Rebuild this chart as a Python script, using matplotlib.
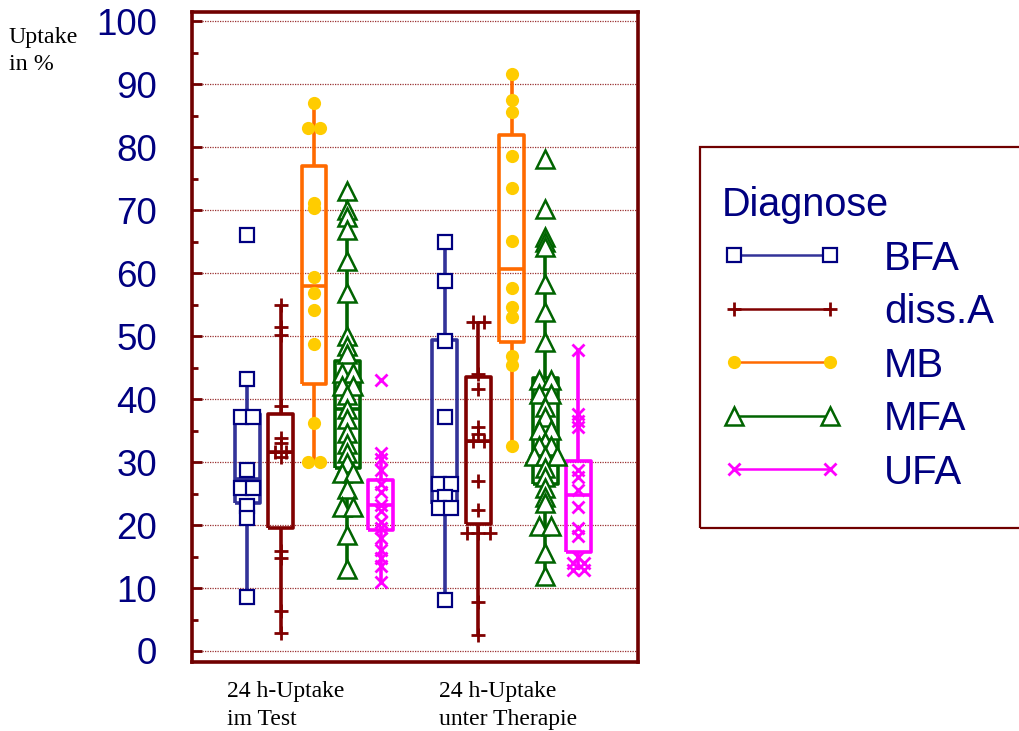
import numpy as np
import matplotlib
matplotlib.use("Agg")
import matplotlib.pyplot as plt
from matplotlib.lines import Line2D
from matplotlib.patches import Rectangle
from matplotlib.ticker import MultipleLocator

# ---- data -----------------------------------------------------------------
groups = ["24 h-Uptake\nim Test", "24 h-Uptake\nunter Therapie"]
diagnoses = ["BFA", "diss.A", "MB", "MFA", "UFA"]

# individual uptake values (%), [test, therapy]
bfa = [[66.0, 43.2, 37.1, 37.1, 28.7, 25.9, 25.9, 23.0, 21.2, 8.6],
       [65.0, 58.7, 49.2, 37.2, 26.5, 26.5, 24.4, 22.7, 22.7, 8.1]]
diss_a = [[55.0, 51.5, 50.2, 38.9, 33.8, 33.0, 31.6, 31.6, 30.8, 15.9, 14.7, 6.3, 2.9],
          [52.3, 52.3, 44.0, 41.6, 35.5, 34.4, 33.3, 33.3, 27.0, 22.4,
           18.8, 18.8, 18.8, 7.8, 2.5]]
mb = [[87.1, 83.1, 83.1, 71.2, 70.4, 59.4, 56.8, 54.2, 48.7, 36.2, 30.0, 30.0],
      [91.6, 87.6, 85.6, 78.6, 73.6, 65.1, 57.7, 54.6, 53.0, 46.8, 45.4, 32.5]]
mfa = [[73.1, 70.0, 69.0, 66.9, 61.9, 56.9, 50.0, 48.4, 47.1, 44.2, 44.2, 42.1, 42.1,
        40.7, 38.4, 36.8, 34.7, 32.8, 31.5, 29.9, 28.3, 28.3, 25.7, 22.8, 22.8, 18.5, 13.0],
       [78.2, 70.2, 65.7, 64.9, 64.2, 58.3, 53.9, 49.1, 43.0, 43.0, 40.9, 40.9, 38.8,
        37.2, 35.1, 35.1, 33.2, 32.5, 32.5, 30.9, 30.9, 30.9, 29.0, 27.7, 25.9, 24.5,
        23.5, 19.8, 19.8, 15.6, 11.9]]
ufa = [[43.0, 31.4, 30.5, 28.8, 26.5, 25.3, 23.2, 22.2, 20.5, 19.5, 18.0, 16.0,
        14.7, 13.5, 11.0],
       [47.8, 37.7, 36.6, 35.6, 28.8, 27.7, 25.5, 22.9, 19.5, 18.2, 15.0, 13.9,
        13.9, 12.9, 12.9]]

# box statistics: (q1, median, q3, whisker low, whisker high), [test, therapy]
bfa_box = [(23.5, 27.3, 37.7, 8.6, 43.2), (23.4, 26.5, 49.4, 8.1, 65.0)]
diss_a_box = [(19.6, 31.6, 37.7, 2.9, 55.0), (20.1, 33.3, 43.5, 2.5, 52.3)]
mb_box = [(42.4, 57.9, 77.0, 30.0, 87.1), (49.1, 60.6, 81.9, 32.5, 91.6)]
mfa_box = [(29.1, 38.4, 46.0, 13.0, 73.1), (26.6, 30.9, 43.4, 11.9, 65.7)]
ufa_box = [(19.2, 23.2, 27.2, 11.0, 31.4), (15.8, 24.8, 30.1, 12.9, 47.8)]

values = [bfa, diss_a, mb, mfa, ufa]
boxes = [bfa_box, diss_a_box, mb_box, mfa_box, ufa_box]

# ---- styling --------------------------------------------------------------
NAVY = "#000080"
MAROON = "#700000"
styles = [
    dict(line="#333399", marker="s", mfc="white", mec=NAVY, ms=9.5, mew=1.6),
    dict(line="#800000", marker="+", mfc="#800000", mec="#800000", ms=10.5, mew=2.0),
    dict(line="#ff6a00", marker="o", mfc="#ffcc00", mec="#ffcc00", ms=9.5, mew=0.0),
    dict(line="#006400", marker="^", mfc="white", mec="#006400", ms=12.5, mew=1.8),
    dict(line="#ff00ff", marker="x", mfc="#ff00ff", mec="#ff00ff", ms=9.0, mew=2.0),
]

plt.rcParams["font.family"] = ["Liberation Sans", "DejaVu Sans"]

fig = plt.figure(figsize=(10.2, 7.31), dpi=100)
ax = fig.add_axes([192 / 1020, 69 / 731, 446 / 1020, 650 / 731])

slot = 0.169      # distance between diagnoses within a group
box_w = 0.126
tie_step = 0.058  # sideways offset for identical values


def spread(vals, x):
    vals = np.asarray(vals, float)
    xs = np.full(len(vals), x, float)
    for v in np.unique(vals):
        idx = np.where(vals == v)[0]
        n = len(idx)
        xs[idx] = x + (np.arange(n) - (n - 1) / 2) * tie_step
    return xs


for k, (vals, bx, st) in enumerate(zip(values, boxes, styles)):
    for g in range(len(groups)):
        x = (g + 1) + (k - 2) * slot
        q1, med, q3, lo, hi = bx[g]
        stats = [dict(q1=q1, med=med, q3=q3, whislo=lo, whishi=hi, fliers=[])]
        lp = dict(color=st["line"], lw=2.6, solid_capstyle="butt")
        ax.bxp(stats, positions=[x], widths=box_w, showfliers=False,
               showcaps=False, boxprops=lp, whiskerprops=lp, medianprops=lp,
               manage_ticks=False, zorder=3)
        ax.plot(spread(vals[g], x), vals[g], ls="none", marker=st["marker"],
                mfc=st["mfc"], mec=st["mec"], ms=st["ms"], mew=st["mew"],
                zorder=4)

ax.set_xlim(0.383, 2.639)
ax.set_ylim(-1.75, 101.5)
ax.set_xticks([])
ax.set_yticks(np.arange(0, 101, 10))
ax.yaxis.set_minor_locator(MultipleLocator(5))
ax.tick_params(axis="y", which="major", direction="in", length=7, width=2,
               color=MAROON, labelsize=26.5, labelcolor=NAVY, pad=25)
ax.tick_params(axis="y", which="minor", direction="in", length=4.5, width=2,
               color=MAROON)
ax.grid(axis="y", which="major", color="#9a3030", lw=0.9, ls=(0, (1, 1)),
        zorder=0)
ax.set_axisbelow(True)
for sp in ax.spines.values():
    sp.set_color(MAROON)
    sp.set_linewidth(2.6)

# category labels and axis caption
serif = ["Liberation Serif", "DejaVu Serif"]
fig.text(227 / 1020, 1 - 681 / 731, groups[0], ha="left", va="top",
         family=serif, fontsize=17, linespacing=1.42)
fig.text(439 / 1020, 1 - 681 / 731, groups[1], ha="left", va="top",
         family=serif, fontsize=17, linespacing=1.42)
fig.text(9 / 1020, 1 - 27 / 731, "Uptake\nin %", ha="left", va="top",
         family=serif, fontsize=17.3, linespacing=1.4)

# legend
handles = [Line2D([0], [0], color=st["line"], lw=1.8, marker=st["marker"],
                  mfc=st["mfc"], mec=st["mec"], ms=st["ms"], mew=st["mew"])
           for st in styles]
leg = fig.legend(handles, diagnoses, title="Diagnose", loc="upper left",
                 bbox_to_anchor=(722 / 1020, 1 - 186 / 731), frameon=False,
                 borderpad=0, borderaxespad=0, numpoints=2, fontsize=29,
                 title_fontsize=28.5, handlelength=2.98, handletextpad=1.04,
                 labelspacing=0.385, alignment="left", labelcolor=NAVY)
leg.get_title().set_color(NAVY)
fig.patches.append(Rectangle((700 / 1020, (731 - 528) / 731), 340 / 1020,
                             381 / 731, transform=fig.transFigure, fill=False,
                             ec=MAROON, lw=1.6))

fig.savefig("out.png", dpi=100)
